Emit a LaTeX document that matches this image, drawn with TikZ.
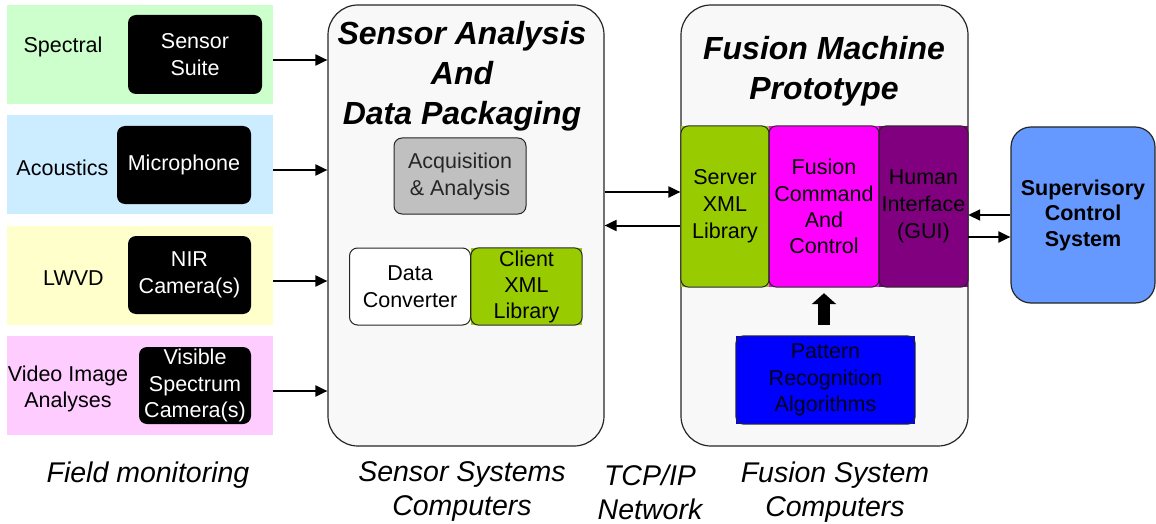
\documentclass[tikz,border=0pt]{standalone}
\usepackage{fontspec}
\setmainfont{Liberation Sans}
\usetikzlibrary{arrows.meta}
\definecolor{bandgreen}{HTML}{CCFFCC}
\definecolor{bandblue}{HTML}{CCECFF}
\definecolor{bandyellow}{HTML}{FFFFCC}
\definecolor{bandpink}{HTML}{FFCCFF}
\definecolor{boxbg}{HTML}{F8F8F8}
\definecolor{acqgray}{HTML}{C0C0C0}
\definecolor{xmlgreen}{HTML}{99CC00}
\definecolor{cmdmag}{HTML}{FF00FF}
\definecolor{guipurple}{HTML}{800080}
\definecolor{pblue}{HTML}{0000FF}
\definecolor{supblue}{HTML}{6699FF}
\begin{document}
\begin{tikzpicture}[x=1pt,y=-1pt,
  txt/.style={font=\fontsize{21.5}{27}\selectfont, align=center, inner sep=0pt},
  band/.style={fill=#1, minimum width=266pt, minimum height=99pt, inner sep=0pt},
  blk/.style={txt, fill=black, text=white, rounded corners=8pt},
  big/.style={draw=black!85, line width=1.2pt, fill=boxbg, rounded corners=30pt, inner sep=0pt},
  sq/.style={txt, fill=#1},
  outl/.style={draw=black!85, line width=1pt, rounded corners=8pt},
  arr/.style={line width=2pt, -{Triangle[length=12pt,width=11pt]}},
  title/.style={font=\fontsize{32}{40}\selectfont\bfseries\itshape, align=center, inner sep=0pt},
  foot/.style={font=\fontsize{28.5}{34}\selectfont\itshape, align=center, inner sep=0pt}
]
\useasboundingbox (0,0) rectangle (1156,524);

% field monitoring bands
\node[band=bandgreen] (g) at (140,54.5) {};
\node[band=bandblue] (b) at (140,164.5) {};
\node[band=bandyellow] (y) at (140,275.5) {};
\node[band=bandpink] (p) at (140,385.5) {};

\node[blk, minimum width=134pt, minimum height=79pt] (ss) at (195,54.5) {Sensor\\Suite};
\node[blk, minimum width=134pt, minimum height=78pt] (mic) at (184,165) {Microphone};
\node[blk, minimum width=123pt, minimum height=78pt] (nir) at (189.5,275) {NIR\\Camera(s)};
\node[blk, minimum width=112pt, minimum height=77pt, font=\fontsize{21.5}{26.5}\selectfont] (vis) at (195,385.5) {Visible\\Spectrum\\Camera(s)};

\node[txt] (l1) at (63,47) {Spectral};
\node[txt] (l2) at (62.5,168) {Acoustics};
\node[txt] (l3) at (73.5,278) {LWVD};
\node[txt, font=\fontsize{21.5}{26}\selectfont] (l4) at (68,389) {Video Image\\Analyses};

% sensor analysis box
\node[big, minimum width=276pt, minimum height=441pt] (sa) at (466,225.5) {};
\node[title] (sat) at (462,76) {Sensor Analysis\\And\\Data Packaging};
\node[txt, fill=acqgray, outl, text=black!85, minimum width=132pt, minimum height=76pt] (acq) at (460,176) {Acquisition\\\& Analysis};
\node[txt, fill=white, outl, minimum width=121pt, minimum height=77pt] (dc) at (410,286.5) {Data\\Converter};
\node[sq=xmlgreen, minimum width=111pt, minimum height=77pt, font=\fontsize{21.5}{26}\selectfont] (cx) at (526.5,286.5) {Client\\XML\\Library};
\draw[outl] (cx.north west) rectangle (cx.south east);

% fusion machine box
\node[big, minimum width=287pt, minimum height=441pt] (fm) at (824.5,225.5) {};
\node[title] (fmt) at (824,71) {Fusion Machine\\Prototype};
\node[sq=xmlgreen, minimum width=88pt, minimum height=161pt] (sx) at (725,206.5) {Server\\XML\\Library};
\node[sq=cmdmag, minimum width=110pt, minimum height=161pt, font=\fontsize{21.5}{26.3}\selectfont] (fc) at (824,206.5) {Fusion\\Command\\And\\Control};
\node[sq=guipurple, minimum width=89pt, minimum height=161pt] (hi) at (923.5,206.5) {Human\\Interface\\(GUI)};
\draw[outl] (sx.north west) rectangle (sx.south east);
\draw[outl] (fc.north west) rectangle (fc.south east);
\draw[outl] (hi.north west) rectangle (hi.south east);

\node[sq=pblue, minimum width=179pt, minimum height=88pt, font=\fontsize{21.5}{26.5}\selectfont, text=black!90!blue] (pr) at (825.5,380) {Pattern\\Recognition\\Algorithms};
\draw[outl] (pr.north west) rectangle (pr.south east);

\draw[line width=12pt, -{Triangle[length=11pt,width=24pt]}] ([yshift=11pt]pr.north -| fc.south) -- ([yshift=-6pt]fc.south);

% supervisory
\node[txt, font=\fontsize{21.5}{25.5}\selectfont\bfseries, fill=supblue, draw=black!85, line width=1.2pt, rounded corners=20pt, minimum width=144pt, minimum height=176pt] (sc) at (1083,215) {Supervisory\\Control\\System};

% connectors
\draw[arr] ([yshift=-5.5pt]g.east) -- ([yshift=-5.5pt]g.east -| sa.west);
\draw[arr] ([yshift=-5.5pt]b.east) -- ([yshift=-5.5pt]b.east -| sa.west);
\draw[arr] ([yshift=-5.5pt]y.east) -- ([yshift=-5.5pt]y.east -| sa.west);
\draw[arr] ([yshift=-5.5pt]p.east) -- ([yshift=-5.5pt]p.east -| sa.west);

\draw[arr] ([yshift=33.5pt]sa.east) -- ([yshift=33.5pt]sa.east -| fm.west);
\draw[arr] (fm.west) -- (sa.east);

\draw[arr] (sc.west) -- (sc.west -| hi.east);
\draw[arr] ([yshift=-22pt]sc.west -| hi.east) -- ([yshift=-22pt]sc.west);

% footers
\node[foot] (f1) at (148,475) {Field monitoring};
\node[foot] (f2) at (462,492) {Sensor Systems\\Computers};
\node[foot] (f3) at (650,492) {TCP/IP\\Network};
\node[foot] (f4) at (835,492) {Fusion System\\Computers};
\end{tikzpicture}
\end{document}
